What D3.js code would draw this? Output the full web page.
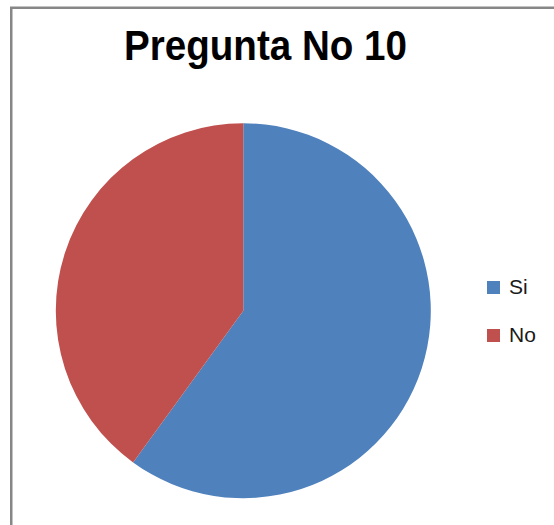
<!DOCTYPE html>
<html lang="es">
<head>
<meta charset="UTF-8">
<title>Pregunta No 10</title>
<script src="https://d3js.org/d3.v7.min.js"></script>
<style>
  body { margin: 0; background: #fff; }
  svg { display: block; }
</style>
</head>
<body>
<svg id="chart" width="554" height="525"></svg>

<script>
// datos
var categorias = ["Si", "No"];
var valores = [60, 40];
var colores = ["#4f81bd", "#c0504d"];
var titulo = "Pregunta No 10";

var svg = d3.select("#chart"),
    width = +svg.attr("width"),
    height = +svg.attr("height");

// marco gris (se corta a la derecha y abajo)
svg.append("rect")
    .attr("x", 11.25)
    .attr("y", 7.75)
    .attr("width", 600)
    .attr("height", 600)
    .attr("fill", "none")
    .attr("stroke", "#878787")
    .attr("stroke-width", 2.5);

// titulo
svg.append("text")
    .attr("x", 265.5)
    .attr("y", 60)
    .attr("text-anchor", "middle")
    .attr("textLength", 283)
    .attr("lengthAdjust", "spacingAndGlyphs")
    .style("font-family", "'Liberation Sans', Arial, sans-serif")
    .style("font-weight", "bold")
    .style("font-size", "43px")
    .style("fill", "#000")
    .text(titulo);

var color = d3.scaleOrdinal()
    .domain(categorias)
    .range(colores);

var datos = categorias.map(function(c, i) { return { cat: c, val: valores[i] }; });

var pie = d3.pie()
    .sort(null)
    .value(function(d) { return d.val; });

var arc = d3.arc()
    .innerRadius(0)
    .outerRadius(187.5);

var g = svg.append("g")
    .attr("transform", "translate(243.3,310.7)");

g.selectAll("path")
  .data(pie(datos))
  .enter()
  .append("path")
    .attr("d", arc)
    .attr("fill", function(d) { return color(d.data.cat); });

// leyenda
var ley = d3.scaleBand()
    .domain(categorias)
    .range([274, 370])
    .paddingInner(0);

var items = svg.selectAll("g.ley")
  .data(categorias)
  .enter()
  .append("g")
    .attr("class", "ley")
    .attr("transform", function(d) { return "translate(487," + ley(d) + ")"; });

items.append("rect")
    .attr("x", 0)
    .attr("y", 7)
    .attr("width", 13)
    .attr("height", 13)
    .attr("fill", function(d) { return color(d); });

items.append("text")
    .attr("x", 22)
    .attr("y", 19.5)
    .style("font-family", "'Liberation Sans', Arial, sans-serif")
    .style("font-size", "21px")
    .style("fill", "#1a1a1a")
    .text(function(d) { return d; });
</script>
</body>
</html>
